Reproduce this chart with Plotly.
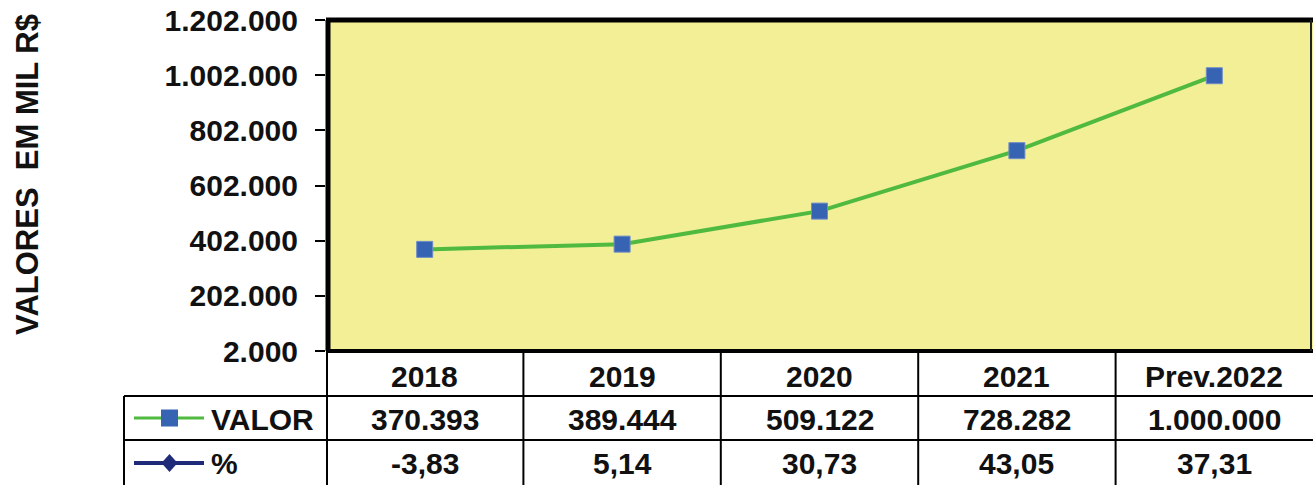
import plotly.graph_objects as go

# ---- data ----
categories = ["2018", "2019", "2020", "2021", "Prev.2022"]
valor = [370393, 389444, 509122, 728282, 1000000]
percent = [-3.83, 5.14, 30.73, 43.05, 37.31]
y_title = "VALORES  EM MIL R$"
series_names = ["VALOR", "%"]

# ---- styling / layout constants ----
W, H = 1313, 485
L, R, T, B = 326, 0, 20, 134
plot_w = W - L - R
plot_h = H - T - B
FONT = "Arial, 'Liberation Sans', sans-serif"
FS = 30
YELLOW = "#F2EF97"
GREEN = "#4FBA3F"
BLUE = "#3763B3"
NAVY = "#1F2A78"


def px_to_py(p):  # pixel row -> paper y
    return (H - B - p) / plot_h


def px_to_px(p):  # pixel column -> paper x
    return (p - L) / plot_w


def fmt_int(v):
    return f"{v:,.0f}".replace(",", ".")


def fmt_pct(v):
    return f"{v:.2f}".replace(".", ",")


fig = go.Figure()
fig.add_trace(go.Scatter(
    x=list(range(len(categories))), y=valor, mode="lines+markers", name=series_names[0],
    line=dict(color=GREEN, width=4),
    marker=dict(symbol="square", size=16, color=BLUE, line=dict(color="#6F8CC8", width=1)),
))
fig.add_trace(go.Scatter(
    x=list(range(len(categories))), y=percent, mode="lines", name=series_names[1],
    line=dict(color=NAVY, width=3),
))

shapes = []
ann = []
# plot area borders
shapes += [
    dict(type="line", xref="paper", yref="paper", x0=0, x1=1, y0=1, y1=1,
         line=dict(color="black", width=5)),
    dict(type="line", xref="paper", yref="paper", x0=px_to_px(328), x1=px_to_px(328), y0=0, y1=1,
         line=dict(color="black", width=5)),
    dict(type="line", xref="paper", yref="paper", x0=0, x1=1, y0=px_to_py(351), y1=px_to_py(351),
         line=dict(color="black", width=4)),
    dict(type="line", xref="paper", yref="paper", x0=px_to_px(1311), x1=px_to_px(1311), y0=0, y1=1,
         line=dict(color="#222", width=2)),
]

# data table grid
tl = dict(color="black", width=2)
for p in (396, 440):
    shapes.append(dict(type="line", xref="paper", yref="paper", x0=px_to_px(124), x1=1,
                       y0=px_to_py(p), y1=px_to_py(p), line=tl))
shapes.append(dict(type="line", xref="paper", yref="paper", x0=px_to_px(124), x1=px_to_px(124),
                   y0=px_to_py(396), y1=px_to_py(H), line=tl))
shapes.append(dict(type="line", xref="paper", yref="paper", x0=px_to_px(327), x1=px_to_px(327),
                   y0=px_to_py(351), y1=px_to_py(H), line=tl))
for i in range(len(categories) - 1):
    shapes.append(dict(type="line", xref="x", yref="paper", x0=i + 0.5, x1=i + 0.5,
                       y0=px_to_py(351), y1=px_to_py(H), line=tl))

# legend keys in table
yv, yp = 418, 463
shapes.append(dict(type="line", xref="paper", yref="paper", x0=px_to_px(134), x1=px_to_px(204),
                   y0=px_to_py(yv), y1=px_to_py(yv), line=dict(color=GREEN, width=3)))
shapes.append(dict(type="rect", xref="paper", yref="paper", x0=px_to_px(161), x1=px_to_px(178),
                   y0=px_to_py(yv + 8.5), y1=px_to_py(yv - 8.5), fillcolor=BLUE, line=dict(width=0)))
shapes.append(dict(type="line", xref="paper", yref="paper", x0=px_to_px(134), x1=px_to_px(204),
                   y0=px_to_py(yp), y1=px_to_py(yp), line=dict(color=NAVY, width=4)))
cx = px_to_px(169.5)
dx = 8 / plot_w
dy = 9 / plot_h
cy = px_to_py(yp)
shapes.append(dict(type="path", xref="paper", yref="paper",
                   path=f"M {cx-dx},{cy} L {cx},{cy+dy} L {cx+dx},{cy} L {cx},{cy-dy} Z",
                   fillcolor=NAVY, line=dict(width=0)))

tf = dict(family=FONT, size=FS, color="#111", weight="bold")
ann.append(dict(xref="paper", yref="paper", x=px_to_px(209), y=px_to_py(yv + 1), text=series_names[0],
                showarrow=False, xanchor="left", yanchor="middle", font=tf))
ann.append(dict(xref="paper", yref="paper", x=px_to_px(209), y=px_to_py(yp), text=series_names[1],
                showarrow=False, xanchor="left", yanchor="middle", font=tf))
for i, c in enumerate(categories):
    ann.append(dict(xref="x", yref="paper", x=i, y=px_to_py(376), text=c, showarrow=False,
                    xanchor="center", yanchor="middle", font=tf))
    ann.append(dict(xref="x", yref="paper", x=i, y=px_to_py(419), text=fmt_int(valor[i]), showarrow=False,
                    xanchor="center", yanchor="middle", font=tf))
    ann.append(dict(xref="x", yref="paper", x=i, y=px_to_py(463), text=fmt_pct(percent[i]), showarrow=False,
                    xanchor="center", yanchor="middle", font=tf))

# axis title
ann.append(dict(xref="paper", yref="paper", x=px_to_px(27), y=px_to_py(175), text=y_title,
                showarrow=False, textangle=-90, xanchor="center", yanchor="middle",
                font=dict(family=FONT, size=31, color="#111", weight="bold")))

fig.update_layout(
    width=W, height=H,
    margin=dict(l=L, r=R, t=T, b=B, pad=0),
    paper_bgcolor="white", plot_bgcolor=YELLOW,
    showlegend=False,
    separators=",.",
    shapes=shapes, annotations=ann,
    xaxis=dict(range=[-0.5, len(categories) - 0.5], showticklabels=False, showgrid=False,
               zeroline=False, ticks="", showline=False, fixedrange=True),
    yaxis=dict(range=[2000, 1202000], tick0=2000, dtick=200000, tickformat=",.0f",
               showgrid=False, zeroline=False, ticks="outside", ticklen=10, tickwidth=2,
               tickcolor="black", showline=False, ticklabelstandoff=11,
               tickfont=dict(family=FONT, size=FS, color="#111", weight="bold"), fixedrange=True),
)

fig.write_html("out.html", config={"displayModeBar": False},
               post_script="document.body.style.margin='0';document.body.style.overflow='hidden';")
